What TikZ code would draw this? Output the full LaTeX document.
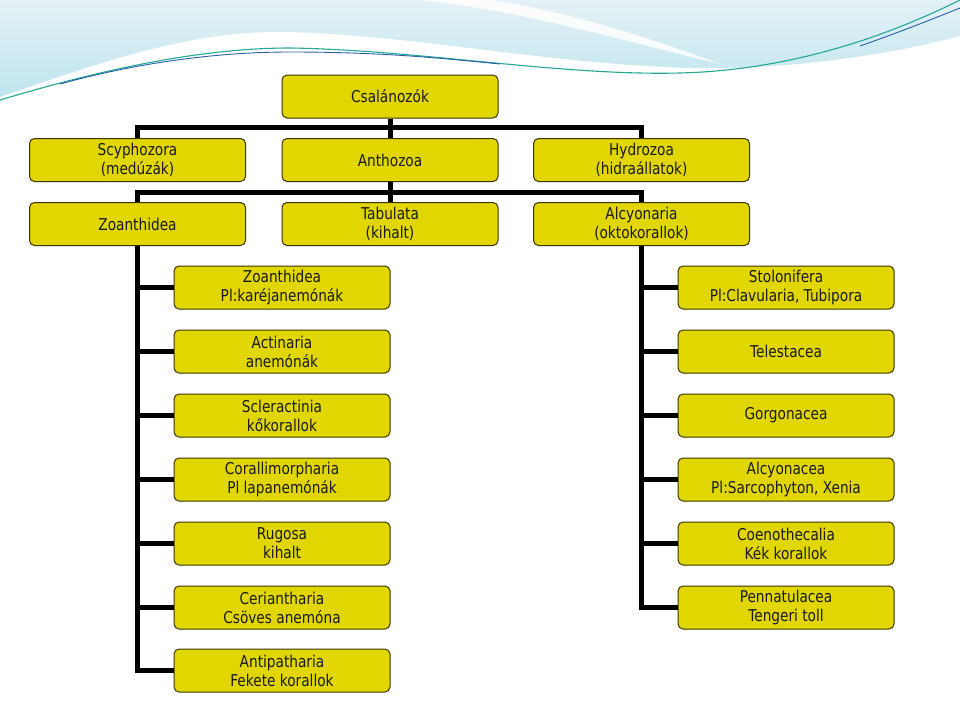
\documentclass[tikz,border=0pt]{standalone}
\usepackage{fontspec}
\setmainfont{DejaVu Sans}[FakeStretch=0.84]
\definecolor{boxfill}{HTML}{E2D600}
\definecolor{boxborder}{HTML}{3A3500}
\definecolor{skyA}{HTML}{E4F1F6}
\definecolor{skyB}{HTML}{BEE5EE}
\definecolor{tealline}{HTML}{22A894}
\definecolor{blueline}{HTML}{2C5FA8}
\begin{document}
\begin{tikzpicture}[x=1pt,y=-1pt,
  box/.style={draw=boxborder, fill=boxfill, rounded corners=5pt, line width=1pt,
    minimum width=216pt, minimum height=43pt, inner sep=0pt, align=center,
    text=black!90, font=\fontsize{16.3}{19}\selectfont},
  conn/.style={line width=5pt, draw=black}]
\useasboundingbox (0,0) rectangle (960,720);
\fill[white] (0,0) rectangle (960,720);
% background swoosh
\shade[top color=skyA, bottom color=skyB]
  (0,0) -- (960,0) -- (960,36)
  .. controls (900,52) and (800,70) .. (690,68)
  .. controls (550,64) and (420,36) .. (290,32)
  .. controls (200,30) and (120,55) .. (0,97) -- cycle;
\fill[white, opacity=0.85]
  (420,0) .. controls (520,10) and (620,40) .. (720,64)
  .. controls (640,34) and (560,10) .. (490,0) -- cycle;
\fill[white, opacity=0.6]
  (0,97) .. controls (120,58) and (200,36) .. (290,36)
  .. controls (420,40) and (550,66) .. (690,70)
  .. controls (560,74) and (420,52) .. (290,49)
  .. controls (200,48) and (100,70) .. (0,100) -- cycle;
\draw[tealline, line width=1.1pt]
  (0,100) .. controls (100,70) and (200,48) .. (290,48)
  .. controls (420,50) and (560,76) .. (680,73)
  .. controls (800,70) and (900,30) .. (960,0);
\draw[blueline, line width=0.9pt]
  (60,84) .. controls (140,62) and (220,52) .. (290,52)
  .. controls (380,52) and (440,58) .. (500,64);
\draw[blueline, line width=0.9pt]
  (860,46) .. controls (900,32) and (930,20) .. (960,8);
% nodes
\node[box] (C) at (390,96.5) {Csalánozók};
\node[box] (Scy) at (137.5,160) {Scyphozora\\(medúzák)};
\node[box] (Anth) at (390,160) {Anthozoa};
\node[box] (Hyd) at (641.5,160) {Hydrozoa\\(hidraállatok)};
\node[box] (Zoan) at (137.5,224) {Zoanthidea};
\node[box] (Tab) at (390,224) {Tabulata\\(kihalt)};
\node[box] (Alcy) at (641.5,224) {Alcyonaria\\(oktokorallok)};
\node[box] (L1) at (282,287.5) {Zoanthidea\\Pl:karéjanemónák};
\node[box] (L2) at (282,351.5) {Actinaria\\anemónák};
\node[box] (L3) at (282,415.5) {Scleractinia\\kőkorallok};
\node[box] (L4) at (282,479.5) {Corallimorpharia\\Pl lapanemónák};
\node[box] (L5) at (282,543.5) {Rugosa\\kihalt};
\node[box] (L6) at (282,607.5) {Ceriantharia\\Csöves anemóna};
\node[box] (L7) at (282,670.5) {Antipatharia\\Fekete korallok};
\node[box] (R1) at (786,287.5) {Stolonifera\\Pl:Clavularia, Tubipora};
\node[box] (R2) at (786,351.5) {Telestacea};
\node[box] (R3) at (786,415.5) {Gorgonacea};
\node[box] (R4) at (786,479.5) {Alcyonacea\\Pl:Sarcophyton, Xenia};
\node[box] (R5) at (786,543.5) {Coenothecalia\\Kék korallok};
\node[box] (R6) at (786,607.5) {Pennatulacea\\Tengeri toll};
% connectors
\draw[conn] (C.south) -- ++(0,9) -| (Scy.north);
\draw[conn] (C.south) -- ++(0,9) -| (Hyd.north);
\draw[conn] (C.south) -- (Anth.north);
\draw[conn] (Anth.south) -- ++(0,10) -| (Zoan.north);
\draw[conn] (Anth.south) -- ++(0,10) -| (Alcy.north);
\draw[conn] (Anth.south) -- (Tab.north);
\foreach \n in {L1,L2,L3,L4,L5,L6,L7}
  \draw[conn] (Zoan.south) |- (\n.west);
\foreach \n in {R1,R2,R3,R4,R5,R6}
  \draw[conn] (Alcy.south) |- (\n.west);
\end{tikzpicture}
\end{document}
